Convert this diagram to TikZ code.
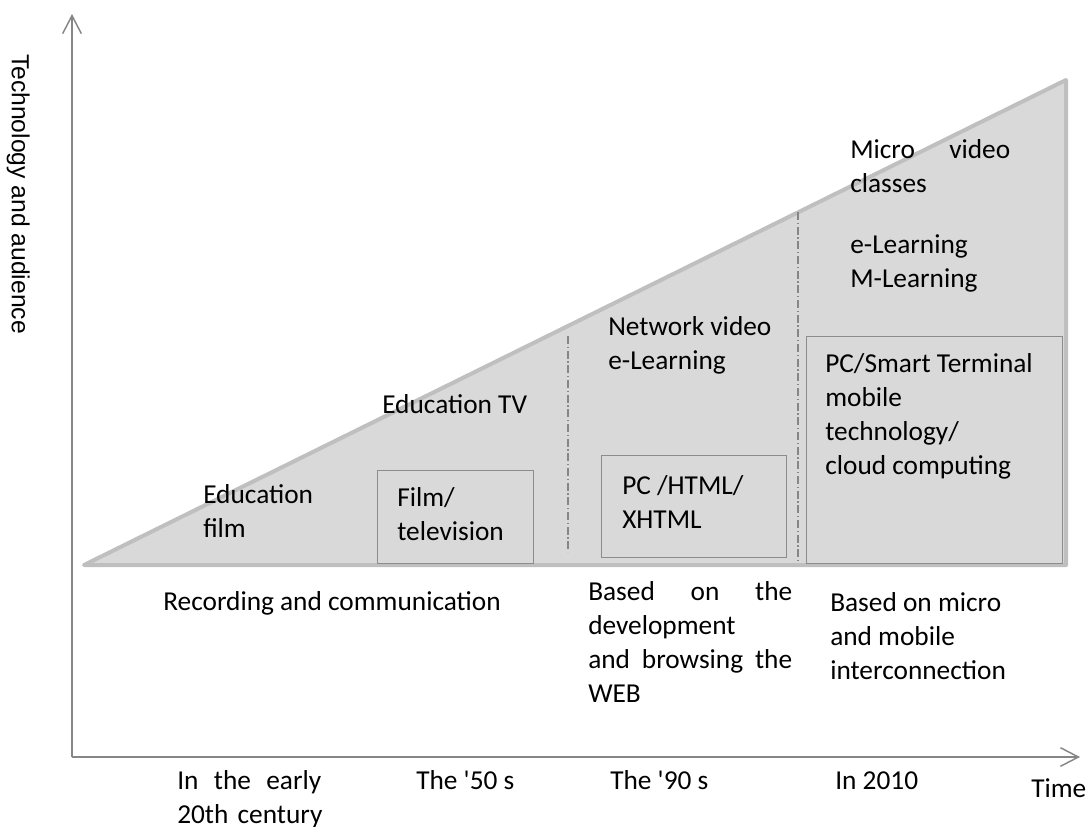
\documentclass[tikz,border=0pt]{standalone}
\usepackage{fontspec}
\setmainfont{Carlito}
\newfontfamily\axisfont{Liberation Sans}
\usetikzlibrary{arrows.meta}

\definecolor{areafill}{HTML}{D9D9D9}
\definecolor{areaedge}{HTML}{BFBFBF}
\definecolor{axisgray}{HTML}{868686}
\definecolor{boxedge}{HTML}{8C8C8C}

\tikzset{
  txt/.style={font=\fontsize{20.5}{25.5}\selectfont, inner sep=0pt, anchor=base west, align=left},
  jtxt/.style={txt, text width=#1},
  tbox/.style={draw=boxedge, line width=1pt, fill=areafill, inner sep=0pt, anchor=north west},
  axisline/.style={draw=axisgray, line width=1.1pt, -{Straight Barb[length=13.5pt,width=14pt]}},
  divider/.style={draw=axisgray, line width=0.9pt, dash pattern=on 6pt off 2pt on 1pt off 2pt}
}

\begin{document}
\begin{tikzpicture}[x=0.75pt,y=-0.75pt]
\useasboundingbox (0,0) rectangle (1088,826);

% axes
\coordinate (origin) at (72,757);
\coordinate (ytop) at (72,14);
\coordinate (xend) at (1080,757);
\draw[axisline] (origin) -- (ytop);
\draw[axisline] (origin) -- (xend);
\node[font=\axisfont\fontsize{18.5}{20}\selectfont, rotate=-90, anchor=base, inner sep=0pt] (ylabel) at (12,194) {Technology and audience};

% growth area
\coordinate (a) at (84,565);
\coordinate (b) at (1066,565);
\coordinate (c) at (1066,80);
\draw[areaedge, fill=areafill, line width=3pt, line join=round] (a) -- (b) -- (c) -- cycle;

% dividers
\coordinate (d1top) at (568,336);
\coordinate (d1bot) at (568,552);
\coordinate (d2top) at (798,212);
\coordinate (d2bot) at (798,563);
\draw[divider] (d1top) -- (d1bot);
\draw[divider] (d2top) -- (d2bot);

% boxes
\node[tbox, minimum width=117pt, minimum height=69.75pt] (filmbox) at (377,470) {};
\node[tbox, minimum width=138.75pt, minimum height=76.5pt] (pcbox) at (601,455) {};
\node[tbox, minimum width=192pt, minimum height=170.25pt] (smartbox) at (806,336) {};

% labels in the area (txt: base = last line, jtxt: base = first line)
\node[txt] (edufilm) at (203,537) {Education\\film};
\node[txt] (edutv) at (382,413) {Education TV};
\node[txt] (filmtv) at (397,540) {Film/\\television};
\node[txt] (netvideo) at (608,369) {Network video\\e-Learning};
\node[txt] (html) at (622,528) {PC /HTML/\\XHTML};
\node[jtxt=120pt] (micro) at (850,158) {Micro\hfill video\\classes};
\node[txt] (mlearn) at (850,287) {e-Learning\\M-Learning};
\node[txt] (smart) at (825,474) {PC/Smart Terminal\\mobile\\technology/\\cloud computing};

% labels under the area
\node[txt] (record) at (163,610) {Recording and communication};
\node[jtxt=153pt] (web) at (588,600) {Based\hfill on\hfill the\\development\\and\hfill browsing\hfill the\\WEB};
\node[txt] (mobile) at (830,679) {Based on micro\\and mobile\\interconnection};

% time labels
\node[jtxt=108pt] (t1) at (177,789) {In\hfill the\hfill early\\\mbox{20th century}};
\node[txt] (t2) at (416,789) {The \textquotesingle 50 s};
\node[txt] (t3) at (610,789) {The \textquotesingle 90 s};
\node[txt] (t4) at (835,789) {In 2010};
\node[txt] (time) at (1031,797) {Time};
\end{tikzpicture}
\end{document}
